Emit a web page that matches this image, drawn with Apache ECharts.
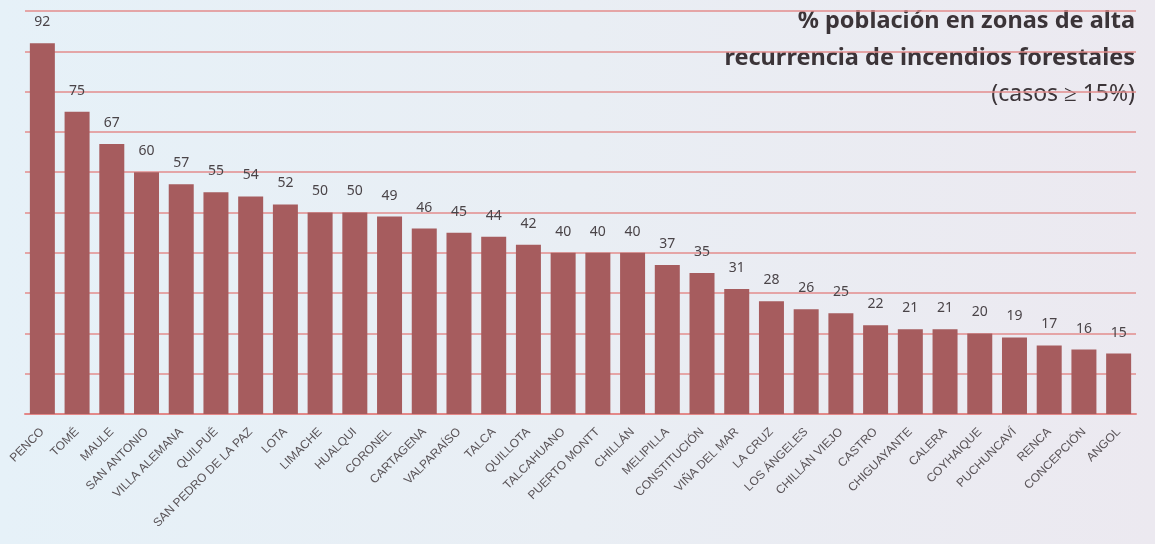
<!DOCTYPE html>
<html>
<head>
<meta charset="utf-8">
<script src="https://cdn.jsdelivr.net/npm/echarts@6/dist/echarts.min.js"></script>
<style>
html,body{margin:0;padding:0;}
body{background:linear-gradient(90deg,#e6f1f8 0%,#e9eef4 50%,#ece9f0 100%);}
#c{width:1155px;height:544px;}
</style>
</head>
<body>
<div id="c"></div>
<script>
const categories = ["PENCO","TOMÉ","MAULE","SAN ANTONIO","VILLA ALEMANA","QUILPUÉ","SAN PEDRO DE LA PAZ","LOTA","LIMACHE","HUALQUI","CORONEL","CARTAGENA","VALPARAÍSO","TALCA","QUILLOTA","TALCAHUANO","PUERTO MONTT","CHILLÁN","MELIPILLA","CONSTITUCIÓN","VIÑA DEL MAR","LA CRUZ","LOS ÁNGELES","CHILLÁN VIEJO","CASTRO","CHIGUAYANTE","CALERA","COYHAIQUE","PUCHUNCAVÍ","RENCA","CONCEPCIÓN","ANGOL"];
const values = [92,75,67,60,57,55,54,52,50,50,49,46,45,44,42,40,40,40,37,35,31,28,26,25,22,21,21,20,19,17,16,15];
const titleLines = ["% población en zonas de alta","recurrencia de incendios forestales","(casos ≥ 15%)"];

const chart = echarts.init(document.getElementById('c'));
chart.setOption({
  backgroundColor: 'transparent',
  animation: false,
  grid: {left: 25, right: 19, top: 11, bottom: 130, containLabel: false},
  graphic: [
    {type:'text', right: 20, top: 9, style:{text: titleLines[0], font: 'bold 23.5px "Noto Sans"', fill:'#3b3438', textAlign:'right'}},
    {type:'text', right: 20, top: 46, style:{text: titleLines[1], font: 'bold 23.5px "Noto Sans"', fill:'#3b3438', textAlign:'right'}},
    {type:'text', right: 20, top: 83, style:{text: titleLines[2], font: '23px "Noto Sans"', fill:'#3b3438', textAlign:'right'}}
  ],
  xAxis: {
    type: 'category',
    data: categories,
    axisLine: {show: true, lineStyle: {color: '#e38888', width: 2}},
    axisTick: {show: false},
    axisLabel: {rotate: 45, interval: 0, fontSize: 12, color: '#5a5458', fontFamily: 'Liberation Sans', margin: 16}
  },
  yAxis: {
    type: 'value',
    min: 0, max: 100, interval: 10,
    axisLabel: {show: false},
    axisLine: {show: false},
    axisTick: {show: false},
    splitLine: {lineStyle: {color: '#e38c8c', width: 1.5}}
  },
  series: [{
    type: 'bar',
    data: values,
    barWidth: '72%',
    itemStyle: {color: '#a65c5e'},
    label: {show: true, position: 'top', distance: 14, fontSize: 14, color: '#4a4448', fontFamily: 'Noto Sans'}
  }]
});
</script>
</body>
</html>
